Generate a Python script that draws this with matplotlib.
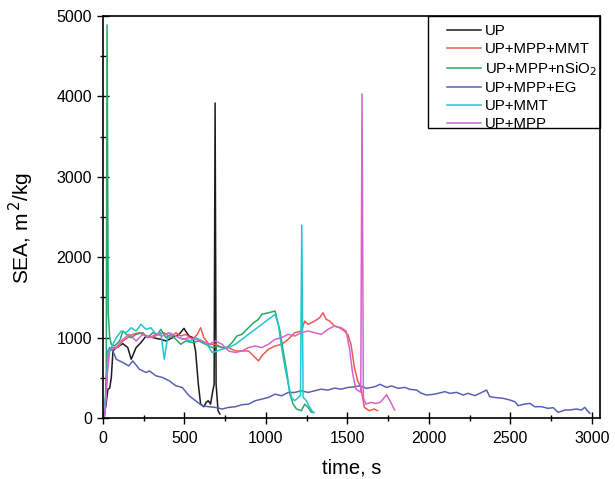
import matplotlib
matplotlib.use("Agg")
import matplotlib.pyplot as plt
from matplotlib.ticker import MultipleLocator
from matplotlib.patches import Rectangle

plt.rcParams['font.family'] = ['Liberation Sans', 'DejaVu Sans']

labels = ["UP", "UP+MPP+MMT", "UP+MPP+nSiO$_2$", "UP+MPP+EG", "UP+MMT", "UP+MPP"]
colors = ["#1c1c1c", "#ee5a52", "#2aa866", "#5a62b4", "#22c6d2", "#d664cc"]

t_up = [0, 16, 30, 41, 51, 61, 81, 122, 152, 173, 203, 233, 264, 294, 325, 355, 386, 426, 467, 497,
        507, 528, 552, 568, 585, 599, 619, 633, 646, 660, 674, 682, 688, 694, 706, 717]
v_up = [8, 132, 359, 372, 504, 834, 876, 925, 876, 731, 876, 938, 1020, 1008, 991, 979, 958, 999, 1041, 1115,
        1082, 1020, 999, 834, 421, 173, 140, 194, 215, 173, 339, 421, 3918, 421, 91, 50]

t_mmt_mpp = [4, 16, 30, 61, 91, 122, 152, 183, 223, 264, 305, 335, 376, 416, 447, 477, 508, 548, 579, 599,
             619, 650, 690, 731, 771, 812, 853, 893, 934, 954, 974, 1015, 1056, 1096, 1137, 1177, 1218, 1238,
             1259, 1299, 1330, 1350, 1370, 1391, 1421, 1451, 1482, 1502, 1522, 1543, 1563, 1583, 1604, 1634,
             1665, 1685]
v_mmt_mpp = [8, 200, 834, 876, 876, 958, 999, 1041, 1061, 1020, 999, 1041, 1061, 999, 1061, 1020, 1041, 979,
             1041, 1123, 999, 917, 917, 876, 876, 834, 834, 834, 752, 710, 772, 855, 896, 917, 979, 1061, 1082,
             1206, 1165, 1206, 1247, 1309, 1227, 1206, 1144, 1123, 1082, 1041, 917, 628, 463, 380, 132, 91,
             112, 91]

t_sio2 = [0, 12, 20, 25, 32, 41, 51, 71, 102, 122, 142, 173, 203, 244, 274, 305, 335, 355, 386, 416, 447,
          477, 508, 548, 589, 629, 670, 700, 731, 761, 792, 822, 853, 893, 924, 954, 974, 1015, 1056, 1086,
          1106, 1127, 1147, 1167, 1188, 1218, 1238, 1259, 1279, 1295]
v_sio2 = [0, 60, 600, 4890, 1300, 1000, 917, 896, 958, 1082, 1041, 999, 1041, 1061, 999, 1061, 1041, 1103,
          999, 1041, 979, 917, 958, 938, 958, 917, 876, 896, 876, 876, 938, 1020, 1041, 1123, 1185, 1227,
          1289, 1309, 1330, 1082, 834, 586, 297, 173, 112, 91, 173, 132, 70, 70]

t_eg = [0, 10, 20, 30, 41, 61, 81, 122, 158, 183, 223, 264, 284, 325, 365, 406, 447, 487, 528, 568, 609,
        650, 690, 731, 771, 812, 853, 893, 934, 974, 1015, 1056, 1096, 1137, 1177, 1218, 1259, 1299, 1340,
        1380, 1421, 1462, 1502, 1543, 1577, 1618, 1669, 1700, 1740, 1771, 1812, 1853, 1883, 1924, 1955,
        1986, 2027, 2057, 2098, 2129, 2170, 2211, 2241, 2282, 2313, 2354, 2374, 2415, 2456, 2497, 2528,
        2548, 2579, 2620, 2650, 2691, 2732, 2763, 2794, 2834, 2865, 2906, 2937, 2957, 2978, 2988]
v_eg = [0, 50, 400, 834, 876, 834, 731, 690, 648, 710, 607, 566, 586, 525, 504, 463, 401, 380, 277, 215, 153,
        140, 132, 112, 132, 140, 165, 173, 215, 235, 256, 297, 277, 318, 318, 339, 318, 339, 359, 347, 372,
        359, 380, 388, 402, 369, 390, 419, 381, 398, 369, 381, 357, 348, 307, 286, 294, 307, 328, 307, 319,
        286, 307, 278, 307, 348, 265, 253, 245, 224, 203, 153, 170, 182, 141, 141, 120, 129, 70, 100, 100,
        112, 100, 133, 79, 58]

t_mmt = [0, 20, 30, 51, 81, 112, 142, 173, 203, 233, 264, 294, 325, 355, 376, 396, 426, 467, 508, 538, 568,
         609, 639, 670, 700, 731, 771, 812, 853, 893, 934, 974, 1015, 1056, 1076, 1096, 1117, 1137, 1157,
         1177, 1198, 1212, 1220, 1228, 1248, 1269, 1289]
v_mmt = [0, 300, 834, 876, 999, 1082, 1061, 1123, 1082, 1165, 1103, 1123, 1041, 1061, 731, 999, 1041, 999,
         979, 958, 999, 958, 917, 814, 834, 855, 876, 917, 979, 1041, 1103, 1165, 1227, 1289, 1165, 876, 628,
         421, 256, 215, 256, 280, 2400, 260, 215, 132, 70]

t_mpp = [10, 24, 41, 81, 122, 162, 203, 244, 284, 325, 365, 406, 447, 487, 528, 568, 609, 650, 690, 731, 771,
         812, 853, 893, 934, 974, 1015, 1056, 1096, 1137, 1177, 1218, 1259, 1299, 1340, 1380, 1421, 1462,
         1492, 1512, 1533, 1553, 1567, 1582, 1590, 1598, 1614, 1644, 1675, 1705, 1740, 1760, 1790]
v_mpp = [0, 500, 834, 876, 979, 1041, 958, 1041, 999, 1041, 1020, 1061, 1020, 979, 999, 979, 958, 917, 958,
         917, 834, 814, 834, 876, 896, 876, 917, 979, 999, 1041, 1020, 1061, 1082, 1061, 1041, 1103, 1144,
         1123, 1082, 876, 545, 359, 339, 320, 4030, 250, 173, 194, 180, 200, 290, 220, 100]

series = [(t_up, v_up), (t_mmt_mpp, v_mmt_mpp), (t_sio2, v_sio2), (t_eg, v_eg), (t_mmt, v_mmt), (t_mpp, v_mpp)]

fig = plt.figure(figsize=(6.15, 4.79), dpi=100)
ax = fig.add_axes([0.1675, 0.1273, 0.808, 0.8393])

for (t, v), lab, c in zip(series, labels, colors):
    ax.plot(t, v, color=c, lw=1.1, label=lab)

ax.set_xlim(0, 3050)
ax.set_ylim(0, 5000)
ax.xaxis.set_major_locator(MultipleLocator(500))
ax.xaxis.set_minor_locator(MultipleLocator(250))
ax.yaxis.set_major_locator(MultipleLocator(1000))
ax.yaxis.set_minor_locator(MultipleLocator(500))
ax.tick_params(which='major', direction='inout', length=8, width=1, labelsize=11.5)
ax.tick_params(axis='x', which='major', pad=5)
ax.tick_params(axis='y', which='major', pad=4)
ax.tick_params(which='minor', direction='inout', length=5, width=1)
for s in ax.spines.values():
    s.set_linewidth(1.2)

ax.set_xlabel("time, s", fontsize=14.5, labelpad=9)
ax.set_ylabel("SEA, m$^{\\,2}$/kg", fontsize=15)
ax.yaxis.set_label_coords(-0.135, 0.473)

leg = ax.legend(loc='upper left', bbox_to_anchor=(0.692, 0.979), frameon=False, borderaxespad=0,
                borderpad=0, fontsize=10.8, handlelength=2.3, handletextpad=0.25, labelspacing=0.25)
ax.add_patch(Rectangle((0.654, 0.721), 0.346, 0.279, transform=ax.transAxes, fill=False,
                       edgecolor='black', lw=1.0, zorder=5, clip_on=False))

fig.savefig("out.png", dpi=100)
